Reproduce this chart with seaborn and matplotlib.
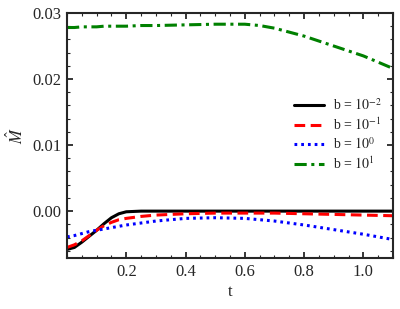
import numpy as np
import pandas as pd
import matplotlib
matplotlib.use("Agg")
import matplotlib.pyplot as plt
import seaborn as sns
from matplotlib.ticker import MultipleLocator

# values
t_vals = [0.0, 0.025, 0.05, 0.075, 0.1, 0.125, 0.15, 0.175, 0.2, 0.25, 0.3,
          0.4, 0.5, 0.6, 0.65, 0.7, 0.8, 0.9, 1.0, 1.1]
m_b1e_2 = [-0.0058, -0.0055, -0.0047, -0.0038, -0.0029, -0.0019, -0.0010, -0.0004,
           -0.0001, 0.0, 0.0, 0.0, 0.0, 0.0, 0.0, 0.0, 0.0, 0.0, 0.0, 0.0]
m_b1e_1 = [-0.0055, -0.0051, -0.0045, -0.0037, -0.0029, -0.0022, -0.0017, -0.0013,
           -0.0011, -0.0008, -0.0006, -0.0004, -0.0003, -0.0003, -0.0003, -0.0003,
           -0.0004, -0.0005, -0.0006, -0.0007]
m_b1e0 = [-0.0039, -0.0037, -0.0034, -0.0031, -0.0029, -0.0027, -0.0025, -0.0023,
          -0.0021, -0.0018, -0.0015, -0.0011, -0.0010, -0.0011, -0.0013, -0.0015,
          -0.0021, -0.0028, -0.0035, -0.0043]
m_b1e1 = [0.0278, 0.0278, 0.0279, 0.0279, 0.0279, 0.0280, 0.0280, 0.0280,
          0.0280, 0.0281, 0.0281, 0.0282, 0.0283, 0.0283, 0.0281, 0.0277,
          0.0265, 0.0250, 0.0235, 0.0216]

labels = [r"b = $10^{-2}$", r"b = $10^{-1}$", r"b = $10^{0}$", r"b = $10^{1}$"]
colors = ["black", "red", "blue", "green"]
styles = ["-", (0, (3.5, 1.8)), (0, (0.9, 1.3)), (0, (4, 1.5, 1, 1.5))]

sns.set_style("ticks")
plt.rcParams["font.family"] = ["Liberation Serif", "DejaVu Serif"]
plt.rcParams["mathtext.fontset"] = "stix"

df = pd.DataFrame({
    "t": t_vals * 4,
    "M": m_b1e_2 + m_b1e_1 + m_b1e0 + m_b1e1,
    "b": sum([[lb] * len(t_vals) for lb in labels], []),
})

fig = plt.figure(figsize=(4, 3.09), dpi=100)
ax = fig.add_axes([0.1675, 0.165, 0.815, 0.793])
for lb, c, ls in zip(labels, colors, styles):
    sns.lineplot(data=df[df["b"] == lb], x="t", y="M", color=c, linestyle=ls,
                 linewidth=2.2, label=lb, ax=ax)

ax.set_xlim(0, 1.1)
ax.set_ylim(-0.0071, 0.03)
ax.set_xticks([0.2, 0.4, 0.6, 0.8, 1.0])
ax.set_yticks([0.0, 0.01, 0.02, 0.03])
ax.set_yticklabels(["0.00", "0.01", "0.02", "0.03"])
ax.xaxis.set_minor_locator(MultipleLocator(0.05))
ax.yaxis.set_minor_locator(MultipleLocator(0.002))
ax.tick_params(which="both", direction="in", top=True, right=True, labelsize=12)
ax.tick_params(which="major", length=4, width=1.3, pad=4)
ax.tick_params(which="minor", length=2.5, width=0.8)
for sp in ax.spines.values():
    sp.set_linewidth(1.5)
ax.set_xlabel("t", fontsize=12, labelpad=3)
ax.set_ylabel(r"$\hat{M}$", fontsize=12, labelpad=4)
ax.legend(loc="upper right", bbox_to_anchor=(0.995, 0.697), frameon=False,
          fontsize=10, handlelength=2.2, handletextpad=0.6, labelspacing=0.25,
          borderpad=0.2)

fig.savefig("out.png", dpi=100)
